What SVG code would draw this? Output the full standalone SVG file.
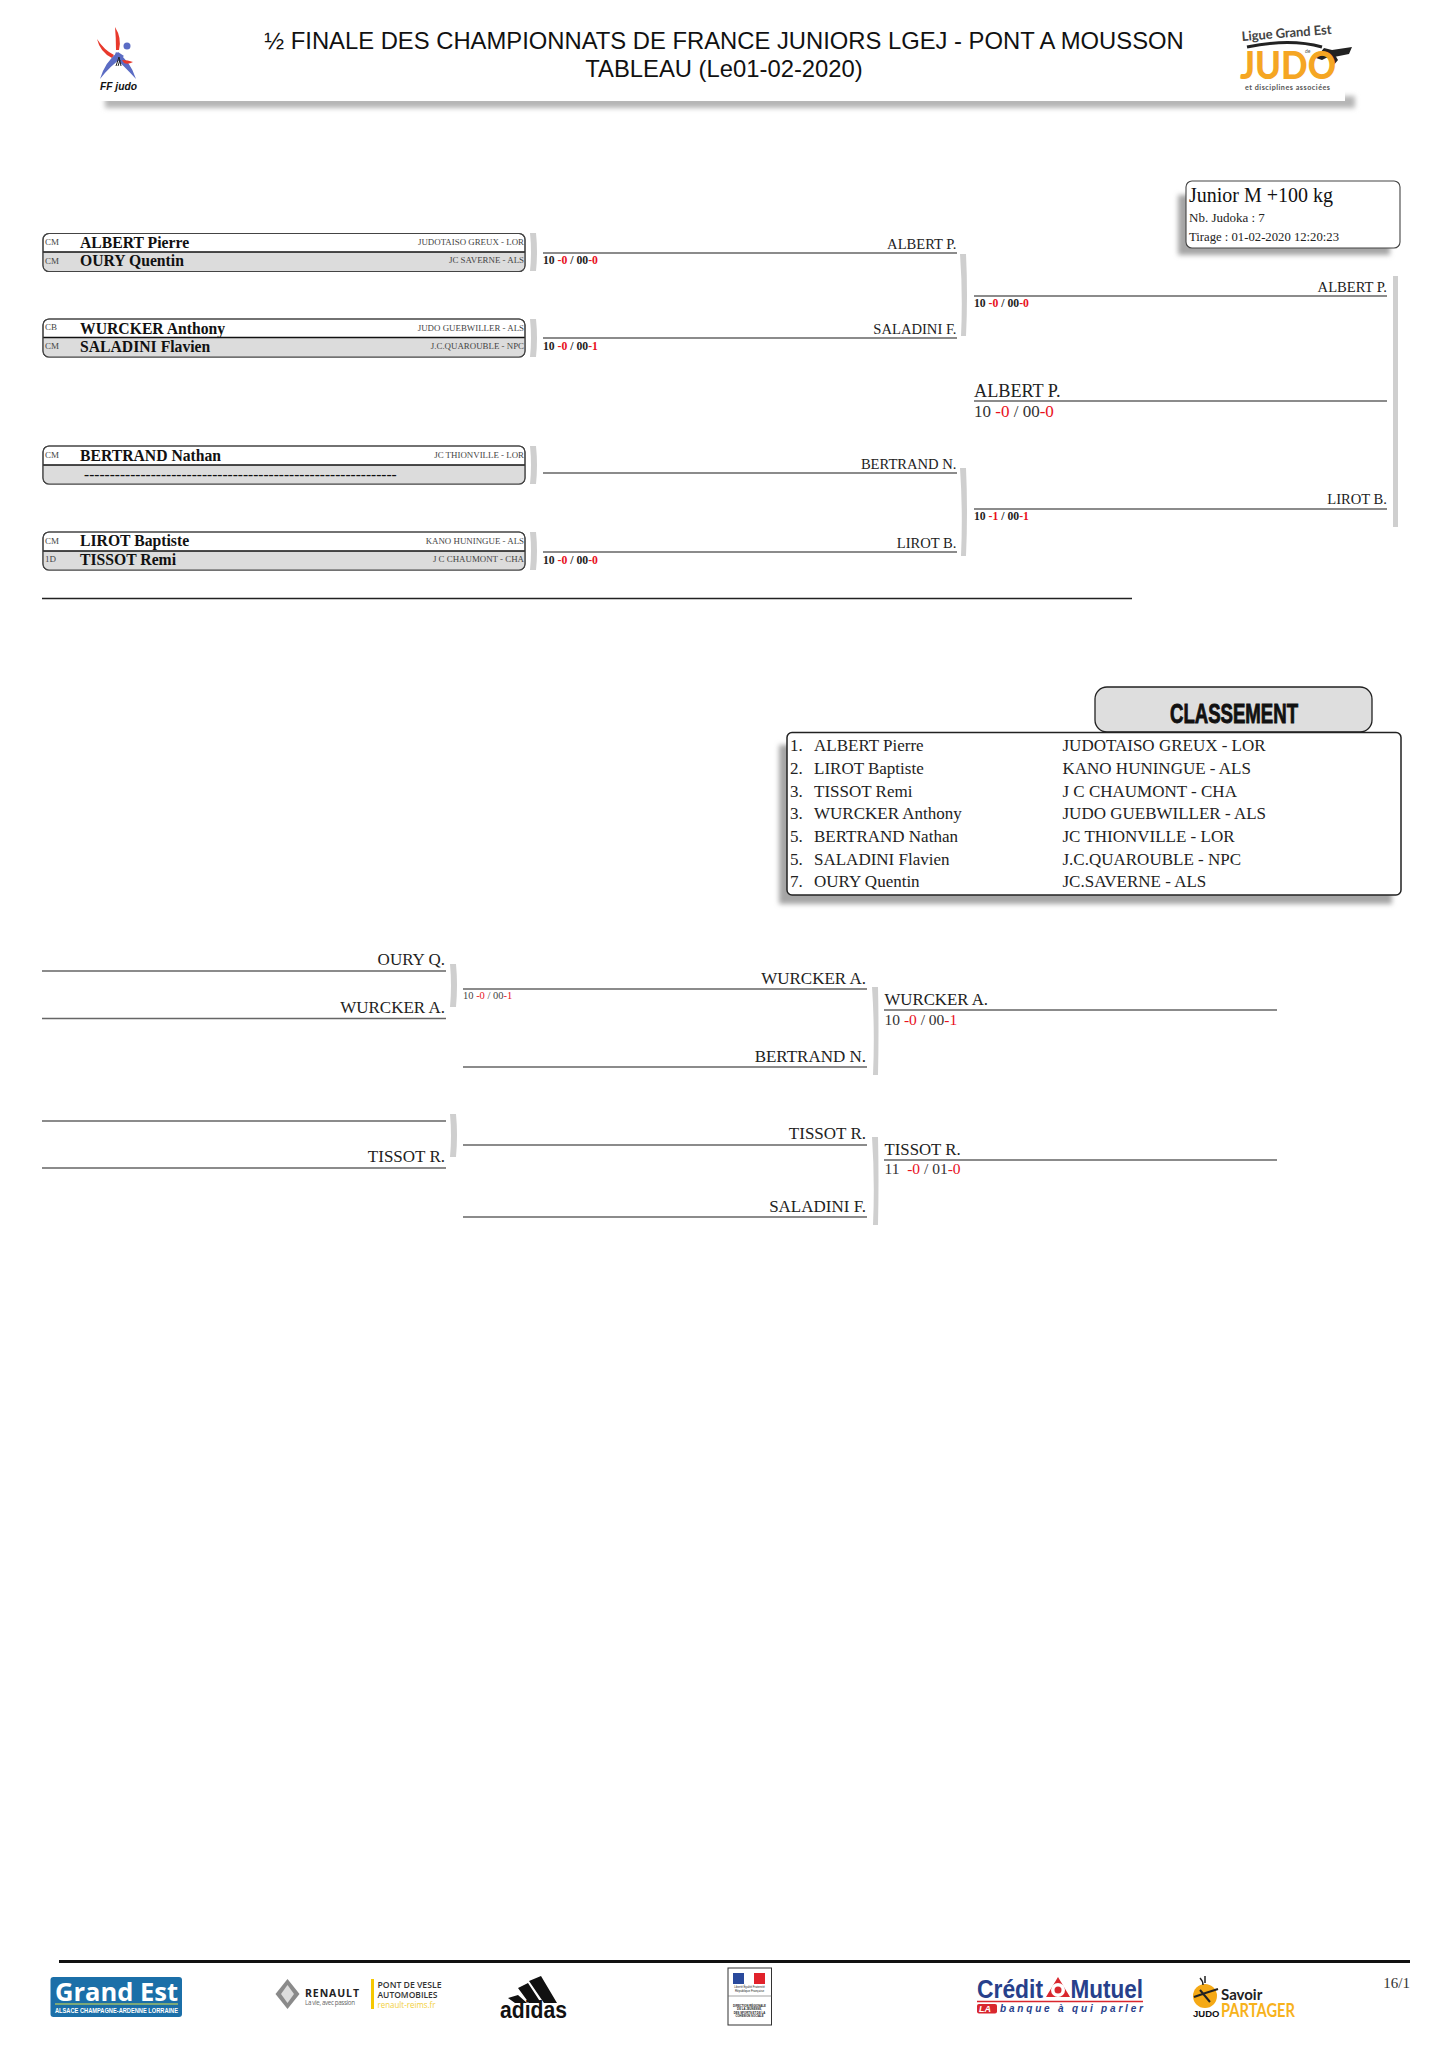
<svg xmlns="http://www.w3.org/2000/svg" width="1447" height="2048" viewBox="0 0 1447 2048">
<defs>
<filter id="blur" x="-10%" y="-50%" width="120%" height="200%"><feGaussianBlur stdDeviation="2.5"/></filter>
</defs>
<style>
text{font-family:"Liberation Serif","Times New Roman",serif;fill:#222}
.sans{font-family:"Liberation Sans",Arial,sans-serif}
.lato{font-family:Lato,sans-serif}
.open{font-family:"Open Sans",sans-serif}
.title{font-family:"Liberation Sans",Arial,sans-serif;font-size:23.8px;text-anchor:middle;fill:#111}
.box{fill:#fff;stroke:#444;stroke-width:1.1}
.low{fill:#dcdcdc}
.div{stroke:#111;stroke-width:1.3;fill:none}
.name{font-size:15.7px;font-weight:bold;fill:#111}
.cat{font-size:9px;fill:#444}
.club{font-size:8.9px;fill:#444;text-anchor:end}
.sc{font-size:11.7px;font-weight:bold;fill:#222}
.scs{font-size:10.5px;fill:#444}
.scl{font-size:17px;fill:#333}
.scm{font-size:15.5px;fill:#333}
.r{fill:#e8101c}
.lbl{font-size:14.6px;text-anchor:end;fill:#222}
.lbc{font-size:17px;text-anchor:end;fill:#222}
.lbs{font-size:16.8px;fill:#222}
.lbb{font-size:18.2px;fill:#222}
.ln{stroke:#666;stroke-width:1.4;fill:none}
.br{fill:#cfcfcf}
.row{font-size:17px;fill:#222}
</style>

<g id="header">
<rect x="105" y="96" width="1250" height="12" fill="#b5b5b5" filter="url(#blur)"/>
<rect x="90" y="0" width="1255" height="101" fill="#fff"/>
<text class="title" x="724" y="49">½ FINALE DES CHAMPIONNATS DE FRANCE JUNIORS LGEJ - PONT A MOUSSON</text>
<text class="title" x="724" y="77">TABLEAU (Le01-02-2020)</text>
</g>

<g id="logo-ffjudo">
<path d="M115 27Q122 38 119 50L116 50Q116 38 115 27Z" fill="#e8392c"/>
<path d="M97 39Q104 50 114 55L112 58Q100 52 97 39Z" fill="#e8392c"/>
<path d="M100 79Q105 62 118 52L124 56Q110 66 100 79Z" fill="#5b6cc4"/>
<path d="M116 52Q130 60 136 79Q124 66 114 57Z" fill="#5b6cc4"/>
<circle cx="127" cy="46" r="3.500" fill="#5b6cc4"/>
<path d="M122 60Q128 60 133 62Q128 65 124 63Z" fill="#e8392c"/>
<path d="M116 66l3-9 2 9M118 66l2-6" stroke="#222" stroke-width="1" fill="none"/>
<text class="sans" x="100" y="90" font-size="11.500" font-weight="bold" font-style="italic" textLength="37" lengthAdjust="spacingAndGlyphs" style="fill:#111">FF judo</text>
</g>

<g id="logo-ligue">
<text class="lato" transform="translate(1242 41) rotate(-4.500)" font-size="13" font-weight="bold" textLength="90" style="fill:#444">Ligue Grand Est</text>
<path d="M1247 47Q1290 38 1322 47" stroke="#222" stroke-width="3" fill="none"/>
<path d="M1316 58l8-10 8 2 6 10-5 6-5-9-6 3zM1332 50l20-3-3 7-15 3z" fill="#222"/>
<text class="lato" font-size="38" font-weight="900" x="1240" y="79" textLength="96" lengthAdjust="spacingAndGlyphs" style="fill:#f5a623">JUDO</text>
<text class="lato" font-size="5" x="1305" y="53" style="fill:#555">de</text>
<text class="lato" font-size="7.200" font-weight="bold" x="1245" y="90" textLength="85" style="fill:#555">et disciplines associées</text>
</g>

<g id="connectors">
<path class="ln" d="M543 253H957M543 338H957M543 473H957M543 552H957M974 296H1387M974 401H1387M974 509H1387"/>
<path class="ln" d="M42 971H446M42 1018.500H446M42 1121H446M42 1168H446M463 989H867M463 1067H867M463 1145H867M463 1217H867M884 1010H1277M884 1160H1277"/>
<path d="M42 598.500H1132" stroke="#222" stroke-width="1.600"/>
<path class="br" d="M530 233h6q2 19 0 38h-6q2-19 0-38zM530 319h6q2 19 0 38h-6q2-19 0-38zM530 446h6q2 19 0 38h-6q2-19 0-38zM530 532h6q2 19 0 38h-6q2-19 0-38z"/>
<path class="br" d="M960 254h6q2 41 0 82h-5q2-41-1-82zM960 468h6q2 44 0 88h-5q2-44-1-88z"/>
<path class="br" d="M1393 276h5v251h-5z"/>
<path class="br" d="M450 964h6q2 21 0 43h-6q2-21 0-43zM450 1114h6q2 21 0 43h-6q2-21 0-43z"/>
<path class="br" d="M872 987h6q1 44 0 88h-5q2-44-1-88zM872 1137h6q1 44 0 88h-5q2-44-1-88z"/>
</g>

<g id="pair-1">
<rect class="box" x="43" y="233.500" width="482" height="38" rx="6"/>
<path class="low" d="M43.600 252H524.400V265q0 6-6 6H50q-6.400 0-6.400-6Z"/>
<path class="div" d="M43 252H525"/>
<rect x="43" y="233.500" width="482" height="38" rx="6" fill="none" stroke="#444" stroke-width="1.100"/>
<text class="cat" x="45" y="245">CM</text><text class="name" x="80" y="248">ALBERT Pierre</text><text class="club" x="524" y="245">JUDOTAISO GREUX - LOR</text>
<text class="cat" x="45" y="264">CM</text><text class="name" x="80" y="266">OURY Quentin</text><text class="club" x="524" y="263">JC SAVERNE - ALS</text>
</g>
<g id="pair-2">
<rect class="box" x="43" y="319" width="482" height="38" rx="6"/>
<path class="low" d="M43.600 337.500H524.400V351q0 6-6 6H50q-6.400 0-6.400-6Z"/>
<path class="div" d="M43 337.500H525"/>
<rect x="43" y="319" width="482" height="38" rx="6" fill="none" stroke="#444" stroke-width="1.100"/>
<text class="cat" x="45" y="330">CB</text><text class="name" x="80" y="333.500">WURCKER Anthony</text><text class="club" x="524" y="331">JUDO GUEBWILLER - ALS</text>
<text class="cat" x="45" y="349">CM</text><text class="name" x="80" y="352">SALADINI Flavien</text><text class="club" x="524" y="349">J.C.QUAROUBLE - NPC</text>
</g>
<g id="pair-3">
<rect class="box" x="43" y="446" width="482" height="38" rx="6"/>
<path class="low" d="M43.600 465H524.400V478q0 6-6 6H50q-6.400 0-6.400-6Z"/>
<path class="div" d="M43 465H525"/>
<rect x="43" y="446" width="482" height="38" rx="6" fill="none" stroke="#444" stroke-width="1.100"/>
<text class="cat" x="45" y="458">CM</text><text class="name" x="80" y="461">BERTRAND Nathan</text><text class="club" x="524" y="458">JC THIONVILLE - LOR</text>
<text x="84" y="479" font-size="15.400" font-weight="bold" style="fill:#111">-------------------------------------------------------------</text>
</g>
<g id="pair-4">
<rect class="box" x="43" y="532" width="482" height="38" rx="6"/>
<path class="low" d="M43.600 551H524.400V564q0 6-6 6H50q-6.400 0-6.400-6Z"/>
<path class="div" d="M43 551H525"/>
<rect x="43" y="532" width="482" height="38" rx="6" fill="none" stroke="#444" stroke-width="1.100"/>
<text class="cat" x="45" y="544">CM</text><text class="name" x="80" y="546">LIROT Baptiste</text><text class="club" x="524" y="544">KANO HUNINGUE - ALS</text>
<text class="cat" x="45" y="562">1D</text><text class="name" x="80" y="564.500">TISSOT Remi</text><text class="club" x="524" y="562">J C CHAUMONT - CHA</text>
</g>

<g id="round-1">
<text class="sc" x="543" y="264">10 <tspan class="r">-0</tspan> / 00<tspan class="r">-0</tspan></text>
<text class="sc" x="543" y="350">10 <tspan class="r">-0</tspan> / 00<tspan class="r">-1</tspan></text>
<text class="sc" x="543" y="564">10 <tspan class="r">-0</tspan> / 00<tspan class="r">-0</tspan></text>
<text class="lbl" x="956.500" y="249">ALBERT P.</text>
<text class="lbl" x="956.500" y="334">SALADINI F.</text>
<text class="lbl" x="956.500" y="469">BERTRAND N.</text>
<text class="lbl" x="956.500" y="548">LIROT B.</text>
</g>
<g id="round-2">
<text class="lbl" x="1387" y="291.500">ALBERT P.</text>
<text class="sc" x="974" y="307">10 <tspan class="r">-0</tspan> / 00<tspan class="r">-0</tspan></text>
<text class="lbl" x="1387" y="504">LIROT B.</text>
<text class="sc" x="974" y="520">10 <tspan class="r">-1</tspan> / 00<tspan class="r">-1</tspan></text>
<text class="lbb" x="974" y="396.500">ALBERT P.</text>
<text class="scl" x="974" y="417">10 <tspan class="r">-0</tspan> / 00<tspan class="r">-0</tspan></text>
</g>

<g id="info-box">
<rect x="1178" y="195" width="212" height="60" fill="#a5a5a5" filter="url(#blur)"/>
<rect class="box" x="1186" y="181" width="214" height="67" rx="6"/>
<text x="1189" y="202" font-size="20" style="fill:#111">Junior M +100 kg</text>
<text x="1189" y="222" font-size="13">Nb. Judoka : 7</text>
<text x="1189" y="241" font-size="12.700">Tirage : 01-02-2020 12:20:23</text>
</g>

<g id="classement">
<rect x="779" y="745" width="613" height="159" fill="#a5a5a5" filter="url(#blur)"/>
<rect x="1095" y="687" width="277" height="45" rx="12" fill="#dedede" stroke="#222" stroke-width="1.300"/>
<text class="sans" x="1234" y="723" font-size="27" font-weight="bold" text-anchor="middle" textLength="128" lengthAdjust="spacingAndGlyphs" stroke="#111" stroke-width=".9" style="fill:#111">CLASSEMENT</text>
<rect x="787" y="732.500" width="614" height="162.500" rx="5" fill="#fff" stroke="#222" stroke-width="1.500"/>
<text class="row" x="790" y="751">1.</text><text class="row" x="814" y="751">ALBERT Pierre</text><text class="row" x="1062.500" y="751">JUDOTAISO GREUX - LOR</text>
<text class="row" x="790" y="774">2.</text><text class="row" x="814" y="774">LIROT Baptiste</text><text class="row" x="1062.500" y="774">KANO HUNINGUE - ALS</text>
<text class="row" x="790" y="796.500">3.</text><text class="row" x="814" y="796.500">TISSOT Remi</text><text class="row" x="1062.500" y="796.500">J C CHAUMONT - CHA</text>
<text class="row" x="790" y="819">3.</text><text class="row" x="814" y="819">WURCKER Anthony</text><text class="row" x="1062.500" y="819">JUDO GUEBWILLER - ALS</text>
<text class="row" x="790" y="842">5.</text><text class="row" x="814" y="842">BERTRAND Nathan</text><text class="row" x="1062.500" y="842">JC THIONVILLE - LOR</text>
<text class="row" x="790" y="864.500">5.</text><text class="row" x="814" y="864.500">SALADINI Flavien</text><text class="row" x="1062.500" y="864.500">J.C.QUAROUBLE - NPC</text>
<text class="row" x="790" y="887">7.</text><text class="row" x="814" y="887">OURY Quentin</text><text class="row" x="1062.500" y="887">JC.SAVERNE - ALS</text>
</g>

<g id="repechage">
<text class="lbc" x="445" y="965">OURY Q.</text>
<text class="lbc" x="445" y="1012.500">WURCKER A.</text>
<text class="lbc" x="445" y="1162">TISSOT R.</text>
<text class="scs" x="463" y="999">10 <tspan class="r">-0</tspan> / 00<tspan class="r">-1</tspan></text>
<text class="lbc" x="866" y="983.500">WURCKER A.</text>
<text class="lbc" x="866" y="1061.500">BERTRAND N.</text>
<text class="lbc" x="866" y="1139">TISSOT R.</text>
<text class="lbc" x="866" y="1211.500">SALADINI F.</text>
<text class="lbs" x="884.500" y="1005">WURCKER A.</text>
<text class="scm" x="884.500" y="1025">10 <tspan class="r">-0</tspan> / 00<tspan class="r">-1</tspan></text>
<text class="lbs" x="884.500" y="1155">TISSOT R.</text>
<text class="scm" x="884.500" y="1174" xml:space="preserve">11  <tspan class="r">-0</tspan> / 01<tspan class="r">-0</tspan></text>
</g>

<g id="footer">
<path d="M59 1961.500H1410" stroke="#111" stroke-width="3"/>
<text x="1410" y="1988" font-size="15" text-anchor="end" style="fill:#333">16/1</text>
</g>

<g id="logo-grandest">
<rect x="50.500" y="1977" width="131.500" height="40" rx="3" fill="#1b6fa8"/>
<text class="open" x="55" y="2001" font-size="25" font-weight="bold" textLength="123" lengthAdjust="spacingAndGlyphs" style="fill:#fff">Grand Est</text>
<path d="M55 2004H178" stroke="#dde24a" stroke-width="1"/>
<text class="sans" x="55" y="2012.500" font-size="6.500" font-weight="bold" textLength="123" lengthAdjust="spacingAndGlyphs" style="fill:#fff">ALSACE CHAMPAGNE-ARDENNE LORRAINE</text>
</g>

<g id="logo-renault">
<path d="M287.500 1979L299.500 1994 287.500 2009 275.500 1994Z" fill="#8a8a8a"/>
<path d="M287.500 1985L294 1994 287.500 2003 281 1994Z" fill="#ddd"/>
<text class="open" x="305" y="1996.500" font-size="10.500" font-weight="bold" textLength="54" style="fill:#222">RENAULT</text>
<text class="open" x="305" y="2005" font-size="6.200" textLength="50" style="fill:#666">La vie, avec passion</text>
<rect x="371" y="1979" width="3" height="30" fill="#f6c800"/>
<text class="open" x="377.500" y="1988" font-size="9" font-weight="600" textLength="64" lengthAdjust="spacingAndGlyphs" style="fill:#333">PONT DE VESLE</text>
<text class="open" x="377.500" y="1997.500" font-size="9" font-weight="600" textLength="60" lengthAdjust="spacingAndGlyphs" style="fill:#333">AUTOMOBILES</text>
<text class="open" x="377.500" y="2007.500" font-size="9" textLength="58" lengthAdjust="spacingAndGlyphs" style="fill:#f2cf3a">renault-reims.fr</text>
</g>

<g id="logo-adidas">
<path d="M529 1981L541 1976 557 2003H544ZM518 1988L528 1983 541 2003H529ZM508 1998L518 1995 527 2003H515Z" fill="#111"/>
<text class="sans" x="500" y="2018" font-size="24" font-weight="bold" textLength="67" lengthAdjust="spacingAndGlyphs" style="fill:#111">adidas</text>
</g>

<g id="logo-marianne">
<rect x="728" y="1968" width="43.500" height="57" fill="#fff" stroke="#333" stroke-width="1"/>
<path d="M728 1996H771.500" stroke="#666" stroke-width=".6"/>
<rect x="733" y="1973" width="11" height="11" fill="#2a4a9c"/>
<rect x="754" y="1973" width="11" height="11" fill="#e1222b"/>
<text class="sans" x="749.500" y="1987.500" font-size="2.800" text-anchor="middle">Liberté Égalité Fraternité</text>
<text class="sans" x="749.500" y="1991.500" font-size="3" text-anchor="middle">République Française</text>
<text class="sans" x="749.500" y="2006.500" font-size="2.800" font-weight="bold" text-anchor="middle">DIRECTION RÉGIONALE</text>
<text class="sans" x="749.500" y="2010" font-size="2.800" font-weight="bold" text-anchor="middle">DE LA JEUNESSE,</text>
<text class="sans" x="749.500" y="2013.500" font-size="2.800" font-weight="bold" text-anchor="middle">DES SPORTS ET DE LA</text>
<text class="sans" x="749.500" y="2017" font-size="2.800" font-weight="bold" text-anchor="middle">COHÉSION SOCIALE</text>
</g>

<g id="logo-creditmutuel">
<text class="sans" x="977" y="1998" font-size="25" font-weight="bold" textLength="66" lengthAdjust="spacingAndGlyphs" style="fill:#27408b">Crédit</text>
<path d="M1058 1977L1070 1997H1046Z" fill="#d9272e"/>
<circle cx="1058" cy="1990" r="7" fill="#fff"/><circle cx="1058" cy="1990" r="3.500" fill="#d9272e"/>
<text class="sans" x="1070.500" y="1998" font-size="25" font-weight="bold" textLength="72.500" lengthAdjust="spacingAndGlyphs" style="fill:#27408b">Mutuel</text>
<path d="M977 2001.500H1143" stroke="#d9272e" stroke-width="1.300"/>
<rect x="977" y="2004" width="20" height="9.500" rx="2" fill="#d9272e"/>
<text class="sans" x="979" y="2012" font-size="9" font-weight="bold" font-style="italic" style="fill:#fff">LA</text>
<text class="sans" x="1000" y="2012" font-size="10" font-weight="bold" font-style="italic" textLength="143" style="fill:#27408b">banque à qui parler</text>
</g>

<g id="logo-savoir">
<circle cx="1205" cy="1996" r="12" fill="#f5a915"/>
<path d="M1194 1997Q1205 1993 1218 1989M1200 1990L1210 2002" stroke="#222" stroke-width="2" fill="none"/>
<path d="M1200 1978q3 3 3 7M1205 1976v7" stroke="#222" stroke-width="1.500" fill="none"/>
<text class="lato" x="1221" y="2000" font-size="15" font-weight="bold" style="fill:#222">Savoir</text>
<text class="sans" x="1193" y="2017" font-size="9.500" font-weight="bold" style="fill:#111">JUDO</text>
<text class="lato" x="1221" y="2017" font-size="18" font-weight="bold" textLength="74" lengthAdjust="spacingAndGlyphs" style="fill:#f7b21c">PARTAGER</text>
</g>
</svg>
